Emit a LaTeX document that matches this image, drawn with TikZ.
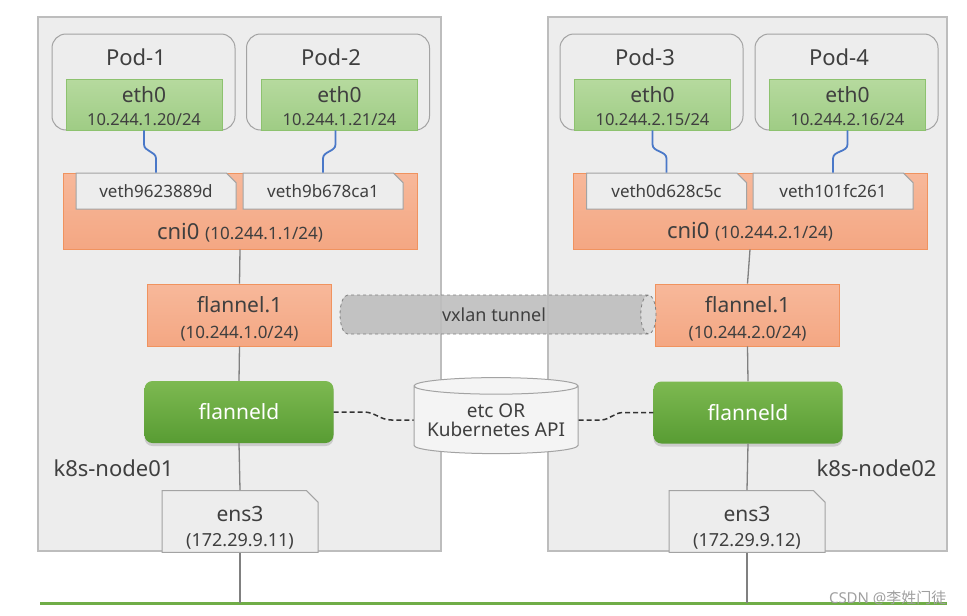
\documentclass[tikz,border=0pt]{standalone}
\usepackage{fontspec}
\setmainfont{Noto Sans}
\newfontfamily\cjkfont{Noto Sans CJK SC}
\usetikzlibrary{positioning,shapes.geometric,shapes.misc,shadows}
\definecolor{hostgray}{HTML}{EDEDED}
\definecolor{hostline}{HTML}{BDBDBD}
\definecolor{podline}{HTML}{A3A3A3}
\definecolor{ethtop}{HTML}{B6DA9E}
\definecolor{ethbot}{HTML}{9FCC85}
\definecolor{ethline}{HTML}{8DC26F}
\definecolor{cnitop}{HTML}{F7B89A}
\definecolor{cnibot}{HTML}{F4A783}
\definecolor{cniline}{HTML}{F0935F}
\definecolor{fldtop}{HTML}{7DB951}
\definecolor{fldbot}{HTML}{589C33}
\definecolor{wireblue}{HTML}{4A78C8}
\definecolor{langreen}{HTML}{70AD47}
\definecolor{txtgray}{HTML}{3F3F3F}
\definecolor{tungray}{HTML}{BEBEBE}
\newcommand{\ipsz}{\fontsize{16.5}{18}\selectfont}

\begin{document}
\begin{tikzpicture}[x=1pt,y=-1pt,
  every node/.style={text=txtgray,font=\fontsize{21}{23}\selectfont},
  hostbox/.style={draw=hostline,line width=1.5pt,fill=hostgray,inner sep=0pt},
  podbox/.style={draw=podline,line width=1pt,fill=hostgray,rounded corners=14pt,inner sep=0pt,minimum width=183pt,minimum height=96pt},
  ethbox/.style={draw=ethline,line width=0.8pt,top color=ethtop,bottom color=ethbot,align=center,inner sep=0pt,minimum width=156pt,minimum height=51pt},
  cnibox/.style={draw=cniline,line width=0.8pt,top color=cnitop,bottom color=cnibot,inner sep=0pt,minimum width=354pt,minimum height=76pt},
  vethbox/.style={chamfered rectangle,chamfered rectangle corners=north east,chamfered rectangle xsep=6pt,draw=podline,line width=1pt,fill=hostgray,inner sep=0pt,minimum width=160pt,minimum height=36pt,font=\fontsize{17}{19}\selectfont},
  flanbox/.style={draw=cniline,line width=0.8pt,top color=cnitop,bottom color=cnibot,align=center,inner sep=0pt,minimum width=184pt,minimum height=62pt},
  fldbox/.style={rounded corners=8pt,top color=fldtop,bottom color=fldbot,text=white,inner sep=0pt,minimum width=189pt,minimum height=62pt,drop shadow={shadow xshift=0pt,shadow yshift=-3pt,opacity=0.3}},
  ensbox/.style={chamfered rectangle,chamfered rectangle corners=north east,chamfered rectangle xsep=8pt,draw=podline,line width=1pt,fill=hostgray,align=center,inner sep=0pt,minimum width=156pt,minimum height=59pt},
  wire/.style={draw=wireblue,line width=1.8pt},
  trunk/.style={draw=gray,line width=1.3pt},
  ctrl/.style={draw=black!80,line width=1.5pt,dash pattern=on 5pt off 3pt}]
\path[use as bounding box] (0,0) rectangle (967,616);

% hosts
\node[hostbox,minimum width=403pt,minimum height=534pt] (host1) at (239.5,284) {};
\node[hostbox,minimum width=399pt,minimum height=534pt] (host2) at (747.5,284) {};
\node[anchor=west,font=\fontsize{22}{24}\selectfont] (name1) at (50,468) {k8s-node01};
\node[anchor=east,font=\fontsize{22}{24}\selectfont] (name2) at (940,468) {k8s-node02};

% pods
\node[podbox] (pod1) at (143.5,82) {};
\node[podbox] (pod2) at (338,82) {};
\node[podbox] (pod3) at (651.5,82) {};
\node[podbox] (pod4) at (846.5,82) {};
\node[font=\fontsize{22}{24}\selectfont] (podname1) at (136,57) {Pod-1};
\node[font=\fontsize{22}{24}\selectfont] (podname2) at (331,57) {Pod-2};
\node[font=\fontsize{22}{24}\selectfont] (podname3) at (645,57) {Pod-3};
\node[font=\fontsize{22}{24}\selectfont] (podname4) at (839,57) {Pod-4};
\node[ethbox] (eth1) at (144,104.5) {\rule{0pt}{20pt}eth0\\[0pt]{\ipsz 10.244.1.20/24}};
\node[ethbox] (eth2) at (339.5,104.5) {\rule{0pt}{20pt}eth0\\[0pt]{\ipsz 10.244.1.21/24}};
\node[ethbox] (eth3) at (652.5,104.5) {\rule{0pt}{20pt}eth0\\[0pt]{\ipsz 10.244.2.15/24}};
\node[ethbox] (eth4) at (847.5,104.5) {\rule{0pt}{20pt}eth0\\[0pt]{\ipsz 10.244.2.16/24}};

% bridges
\node[cnibox,label={[anchor=south,yshift=4pt,font=\fontsize{22}{24}\selectfont]south:cni0 {\fontsize{17}{19}\selectfont(10.244.1.1/24)}}] (cni1) at (240,211) {};
\node[cnibox,label={[anchor=south,yshift=5pt,font=\fontsize{22}{24}\selectfont]south:cni0 {\fontsize{17}{19}\selectfont(10.244.2.1/24)}}] (cni2) at (750,211) {};
\node[vethbox] (veth1) at (156,191) {veth9623889d};
\node[vethbox] (veth2) at (323,191) {veth9b678ca1};
\node[vethbox] (veth3) at (666.5,191) {veth0d628c5c};
\node[vethbox] (veth4) at (833,191) {veth101fc261};

\draw[wire] (eth1.south) -- ++(0,14) to[out=-90,in=90] ([yshift=14pt]veth1.north) -- (veth1.north);
\draw[wire] ([xshift=-4pt]eth2.south) -- ++(0,14) to[out=-90,in=90] ([yshift=14pt]veth2.north) -- (veth2.north);
\draw[wire] (eth3.south) -- ++(0,14) to[out=-90,in=90] ([yshift=14pt]veth3.north) -- (veth3.north);
\draw[wire] (eth4.south) -- ++(0,14) to[out=-90,in=90] ([yshift=14pt]veth4.north) -- (veth4.north);

% lan
\coordinate (lanL) at (40,603);
\coordinate (lanR) at (947,603);
\coordinate (lan1) at (240,603);
\coordinate (lan2) at (747,603);
\draw[langreen,line width=3pt] (lanL) -- (lanR);

% flannel devices
\node[flanbox] (flan1) at (239.5,315) {\rule{0pt}{24pt}flannel.1\\[3pt]{\fontsize{17}{19}\selectfont(10.244.1.0/24)}};
\node[flanbox] (flan2) at (747.5,315) {\rule{0pt}{24pt}flannel.1\\[3pt]{\fontsize{17}{19}\selectfont(10.244.2.0/24)}};
\node[fldbox] (fld1) at (239,412) {flanneld};
\node[fldbox] (fld2) at (748,412.5) {flanneld};
\node[ensbox] (ens1) at (240,521.5) {\rule{0pt}{27pt}ens3\\[2pt]{\fontsize{18}{20}\selectfont(172.29.9.11)}};
\node[ensbox] (ens2) at (747,521.5) {\rule{0pt}{27pt}ens3\\[2pt]{\fontsize{18}{20}\selectfont(172.29.9.12)}};

\draw[trunk] (cni1.south) -- (flan1.north);
\draw[trunk] (flan1.south) -- (fld1.north);
\draw[trunk] (fld1.south) -- (ens1.north);
\draw[trunk] (ens1.south) -- (lan1);
\draw[trunk] (cni2.south) -- (flan2.north);
\draw[trunk] (flan2.south) -- (fld2.north);
\draw[trunk] (fld2.south) -- (ens2.north);
\draw[trunk] (ens2.south) -- (lan2);

% tunnel and store
\node[cylinder,draw=gray,dashed,line width=0.8pt,cylinder uses custom fill,cylinder body fill=tungray,cylinder end fill=gray!30,fill opacity=0.9,text opacity=1,minimum width=39pt,minimum height=316pt,aspect=1.1,inner sep=0pt,font=\fontsize{18}{20}\selectfont] (tunnel) at (494,314.5) {vxlan tunnel};
\node[cylinder,shape border rotate=90,draw=podline,line width=1pt,fill=hostgray!60,minimum width=164pt,minimum height=76pt,aspect=0.12,inner sep=0pt,align=center,font=\fontsize{19}{21}\selectfont] (store) at (496,420) {etc OR\\[-2pt]Kubernetes API};

\draw[ctrl] (fld1.east) -- ++(30,0) to[out=0,in=180] ([xshift=-22pt]store.west) -- (store.west);
\draw[ctrl] (store.east) -- ++(22,0) to[out=0,in=180] ([xshift=-30pt]fld2.west) -- (fld2.west);

\node[anchor=east,text=gray!75,font=\fontsize{15}{17}\selectfont] (mark) at (950,598) {CSDN @{\cjkfont 李姓门徒}};
\end{tikzpicture}
\end{document}
